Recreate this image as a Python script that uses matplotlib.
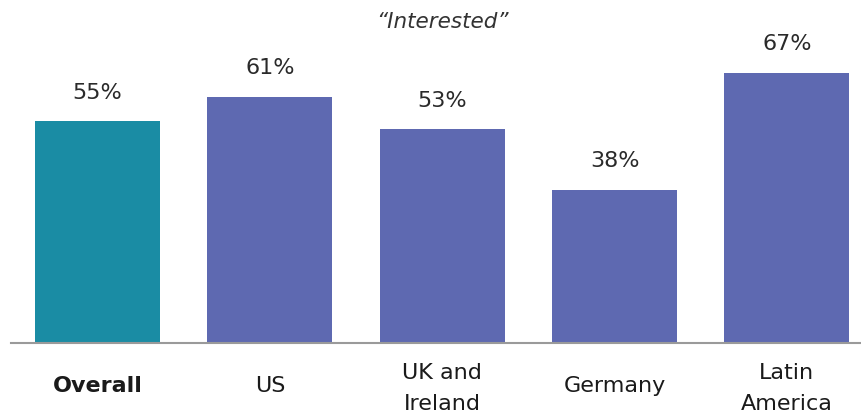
import matplotlib
matplotlib.use("Agg")
import matplotlib.pyplot as plt

categories = ["Overall", "US", "UK and\nIreland", "Germany", "Latin\nAmerica"]
values = [55, 61, 53, 38, 67]
value_labels = ["55%", "61%", "53%", "38%", "67%"]
colors = ["#1A8CA4", "#5E69B1", "#5E69B1", "#5E69B1", "#5E69B1"]
title = "\u201cInterested\u201d"

plt.rcParams['font.family'] = ['DejaVu Sans']

W, H = 861, 412
fig = plt.figure(figsize=(W / 100, H / 100), dpi=100)
ax = fig.add_axes([11 / W, 69 / H, (861 - 11) / W, 343 / H])

x = list(range(len(categories)))
ax.bar(x, values, width=0.726, color=colors, zorder=2)
ax.set_xlim(-0.502, 4.43)
ax.set_ylim(0, 85)

for s in ["top", "right", "left"]:
    ax.spines[s].set_visible(False)
ax.spines["bottom"].set_color("#9a9a9a")
ax.spines["bottom"].set_linewidth(1.5)
ax.set_yticks([])
ax.set_xticks([])

for xi, v, lab in zip(x, values, value_labels):
    ax.annotate(lab, (xi, v), xytext=(0, 20.5), textcoords="offset points",
                ha="center", va="center", fontsize=16, color="#2a2a2a")

for xi, cat in zip(x, categories):
    multi = "\n" in cat
    ax.annotate(cat, (xi, 0), xycoords=("data", "axes fraction"),
                xytext=(0, -32.5 if multi else -31), textcoords="offset points",
                ha="center", va="center", fontsize=16, color="#1a1a1a",
                fontweight="bold" if cat == "Overall" else "normal",
                linespacing=1.7)

fig.text(442 / W, 1 - 22 / H, title, ha="center", va="center",
         fontsize=15.5, style="italic", color="#333333")

fig.savefig("out.png", dpi=100)
